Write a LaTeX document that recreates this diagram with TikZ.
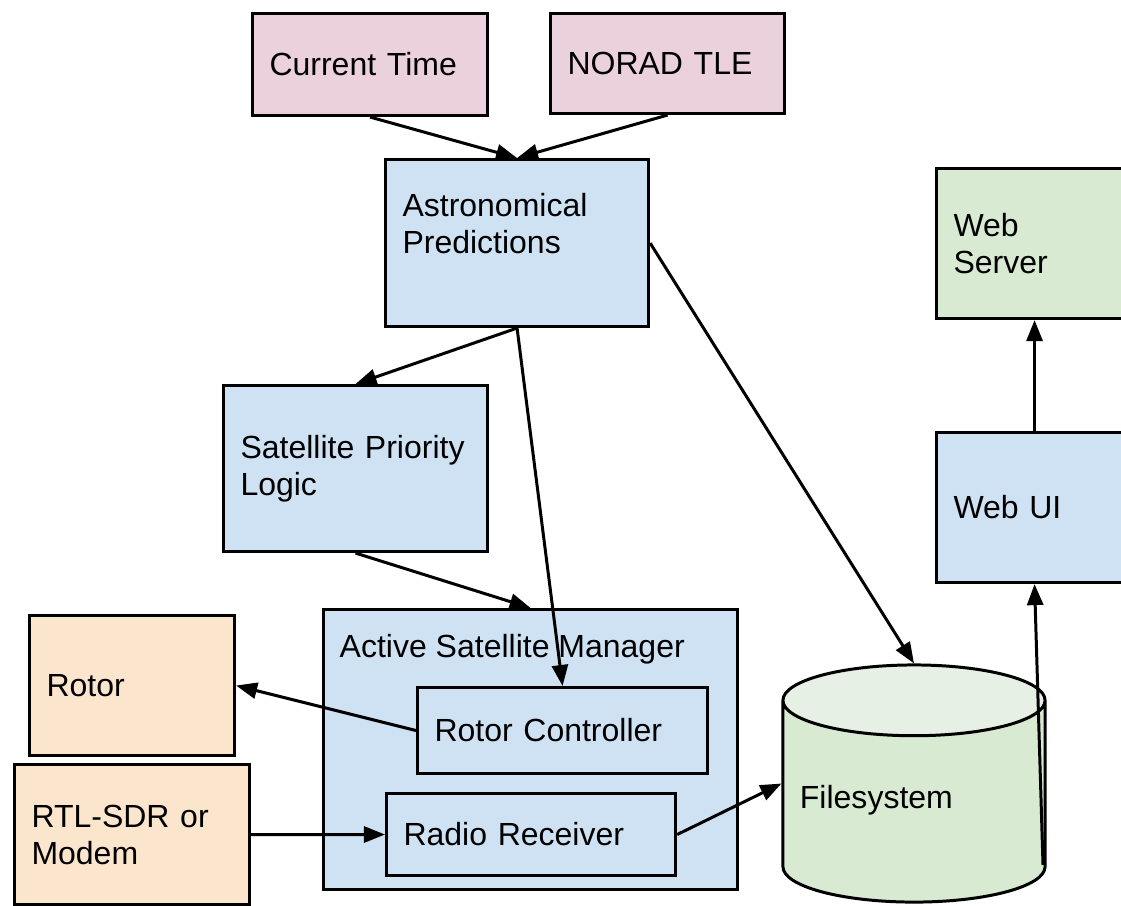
\documentclass[tikz,border=0pt]{standalone}
\usepackage{fontspec}
\setmainfont{Liberation Sans}
\usepackage{xcolor}
\usetikzlibrary{arrows.meta,shapes.geometric}
\definecolor{inpink}{HTML}{EAD1DC}
\definecolor{procblue}{HTML}{CFE2F3}
\definecolor{storegreen}{HTML}{D9EAD3}
\definecolor{storetop}{HTML}{E7F0E4}
\definecolor{hworange}{HTML}{FCE5CD}
\tikzset{>={Triangle[length=0.21cm,width=0.16cm]}}
\tikzset{
  block/.style n args={2}{
    draw, line width=0.85pt, anchor=north west, align=left,
    inner xsep=0.17cm, inner ysep=0pt,
    minimum width=#1cm, minimum height=#2cm, text width=#1cm-0.34cm,
    font=\fontsize{9.1}{10.5}\selectfont},
  flow/.style={->, line width=0.85pt}
}
\begin{document}
\begin{tikzpicture}[x=0.01cm,y=-0.01cm]
    \useasboundingbox (0,0) rectangle (1121,905);
    \clip (0,0) rectangle (1121,905);
    \node[block={2.35}{1.02},fill=inpink] (time) at (251,12) {Current Time};
	\node[block={2.34}{1.00},fill=inpink] (tle) at (549,12) {NORAD TLE};
    \node[block={2.63}{1.67},fill=procblue,text depth=0.76cm] (astro) at (384,158) {Astronomical\\Predictions};
    \node[block={2.64}{1.66},fill=procblue] (prio) at (222,384) {Satellite Priority\\Logic};
    \node[block={1.96}{1.50},fill=storegreen] (server) at (935,167) {Web\\Server};
    \node[block={1.96}{1.50},fill=procblue] (webui) at (935,431) {Web UI};
    \node[block={4.14}{2.80},fill=procblue,
      label={[anchor=north west,inner sep=0pt,xshift=0.17cm,yshift=-0.26cm,font=\fontsize{9.1}{10.5}\selectfont]north west:Active Satellite Manager}] (asm) at (322,608) {};
    \node[block={2.90}{0.86},fill=procblue] (rotctl) at (416,686) {Rotor Controller};
    \node[block={2.89}{0.82},fill=procblue] (radio) at (385,792) {Radio Receiver};
    \node[block={2.05}{1.40},fill=hworange] (rotor) at (28,614) {Rotor};
    \node[block={2.35}{1.40},fill=hworange] (sdr) at (13,763) {RTL-SDR or\\Modem};
    \node[cylinder,shape border rotate=90,aspect=0.27,draw,line width=0.85pt,
      cylinder uses custom fill,cylinder body fill=storegreen,cylinder end fill=storetop,
      minimum width=2.62cm,minimum height=2.37cm,inner xsep=0.17cm,
      text width=2.28cm,align=left,text depth=0.27cm,anchor=shape center,
      font=\fontsize{9.1}{10.5}\selectfont] (fs) at (914,783.5) {Filesystem};
    \coordinate (fsout) at (1043,865);
    \draw[flow] (time.south) -- (astro.north);
    \draw[flow] (tle.south) -- (astro.north);
    \draw[flow] (astro.south) -- (prio.north);
    \draw[flow] (astro.east) -- (fs.north);
    \draw[flow] (prio.south) -- (asm.north);
    \draw[flow] (astro.south) -- (rotctl.north);
    \draw[flow] (rotctl.west) -- (rotor.east);
    \draw[flow] (sdr.east) -- (radio.west);
    \draw[flow] (radio.east) -- (fs.shape center -| fs.west);
    \draw[flow] (fsout) -- (webui.south);
    \draw[flow] (webui.north) -- (server.south);
\end{tikzpicture}
\end{document}
